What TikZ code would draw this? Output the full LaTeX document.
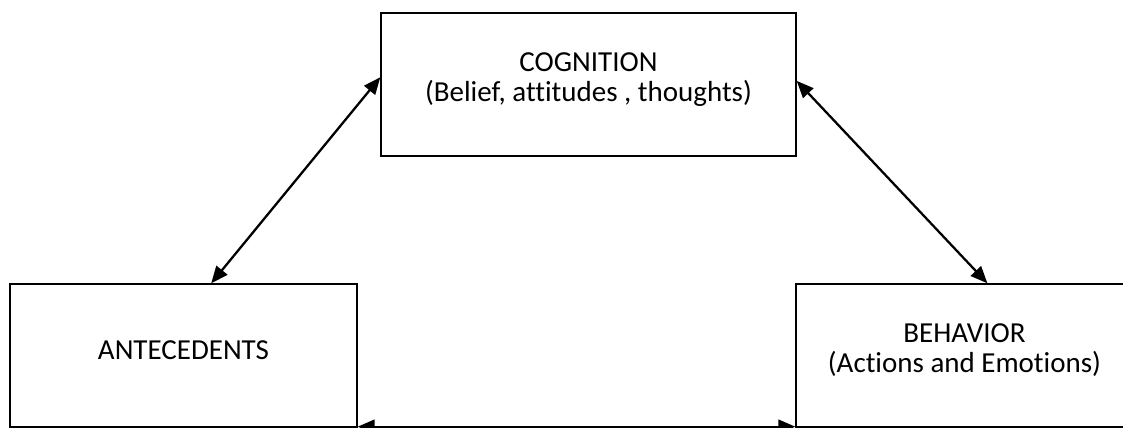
\documentclass[tikz,border=0pt]{standalone}
\usepackage{fontspec}
\setmainfont{Carlito}[Ligatures=NoCommon]
\usetikzlibrary{arrows.meta}

\begin{document}
\begin{tikzpicture}[x=0.02cm,y=-0.02cm,
  box/.style={draw, rectangle, line width=0.8pt, inner sep=0pt, align=center, minimum height=2.86cm},
  link/.style={draw, line width=1.3pt, {Triangle[length=0.34cm,width=0.28cm]}-{Triangle[length=0.34cm,width=0.28cm]}}]
\fontsize{16.5}{16.8}\selectfont
\path[use as bounding box, clip] (0,0) rectangle (1123,428);
\node[box, minimum width=8.3cm, text depth=0.3cm] (cog) at (588.5,84.5) {COGNITION\\(Belief, attitudes , thoughts)};
\node[box, minimum width=6.94cm, text depth=0.2cm] (ante) at (183.5,355.5) {ANTECEDENTS};
\node[box, minimum width=7.2cm, text depth=0.3cm] (beh) at (976,355.5) {BEHAVIOR\hspace*{0.46cm}\\(Actions and Emotions)\hspace*{0.46cm}};

\path[link] (cog.178.76) -- (ante.69.7);
\path[link] (cog.1.24) -- (beh.81.3);
\path[link] ([yshift=0.02cm]ante.south east) -- ([yshift=0.02cm]beh.south west);
\end{tikzpicture}
\end{document}
